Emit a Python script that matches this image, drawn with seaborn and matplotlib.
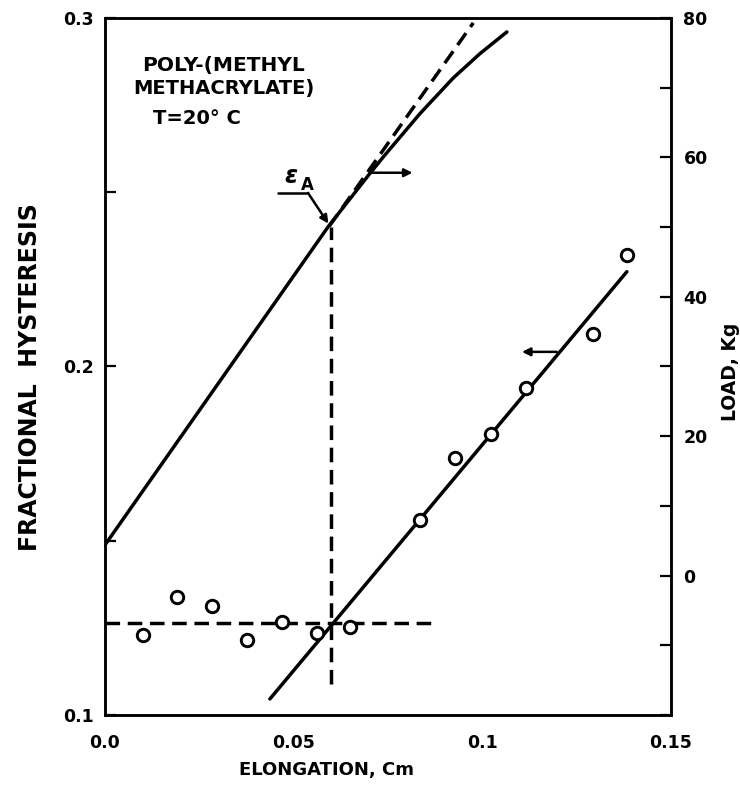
import matplotlib
matplotlib.use("Agg")
import matplotlib.pyplot as plt
import seaborn as sns
import numpy as np
import pandas as pd

# ---------------- data ----------------
elong_hyst = [0.0100, 0.0192, 0.0284, 0.0377, 0.0468, 0.0561, 0.0649,
              0.0835, 0.0928, 0.1022, 0.1116, 0.1292, 0.1383]
frac_hyst = [0.1230, 0.1339, 0.1313, 0.1215, 0.1266, 0.1236, 0.1253,
             0.1560, 0.1737, 0.1806, 0.1937, 0.2093, 0.2320]

fit_x = [0.0437, 0.1383]
fit_y = [0.1046, 0.2272]

plateau_x = [0.0, 0.0879]
plateau_y = [0.1265, 0.1265]

eps_x = [0.0600, 0.0600]
eps_y = [0.1088, 0.2401]

load_x = [0.0, 0.0592, 0.0702, 0.0738, 0.0835, 0.0923, 0.0994, 0.1065]
load_y = [4.4, 50.1, 57.7, 60.1, 66.3, 71.4, 74.9, 78.0]

tangent_x = [0.0594, 0.0976]
tangent_y = [50.1, 79.3]

x_ticks = [0.0, 0.025, 0.05, 0.075, 0.1, 0.125, 0.15]
x_ticklabels = ["0.0", "", "0.05", "", "0.1", "", "0.15"]
left_ticks = [0.1, 0.15, 0.2, 0.25, 0.3]
left_ticklabels = ["0.1", "", "0.2", "", "0.3"]
right_ticks = [-20, -10, 0, 10, 20, 30, 40, 50, 60, 70, 80]
right_ticklabels = ["", "", "0", "", "20", "", "40", "", "60", "", "80"]

# ---------------- styling ----------------
sns.set_theme(style="white")
plt.rcParams["font.family"] = ["DejaVu Sans"]
plt.rcParams["font.weight"] = "bold"
plt.rcParams["text.color"] = "black"
plt.rcParams["axes.labelcolor"] = "black"

fig = plt.figure(figsize=(7.4, 7.86), dpi=100)
ax = fig.add_axes([105 / 740, 71 / 786, 566 / 740, 697 / 786])
ax2 = ax.twinx()

LW = 2.5
DASH = (0, (4.2, 2.2))

# hysteresis data
sns.scatterplot(x=elong_hyst, y=frac_hyst, ax=ax, marker="o", s=80,
                facecolor="white", edgecolor="black", linewidth=2.1, zorder=5)
sns.lineplot(x=fit_x, y=fit_y, ax=ax, color="black", lw=LW, estimator=None, sort=False)
sns.lineplot(x=plateau_x, y=plateau_y, ax=ax, color="black", lw=LW, linestyle=DASH,
             estimator=None, sort=False)
sns.lineplot(x=eps_x, y=eps_y, ax=ax, color="black", lw=LW, linestyle=DASH,
             estimator=None, sort=False)

# load curve
sns.lineplot(x=load_x, y=load_y, ax=ax2, color="black", lw=LW, estimator=None, sort=False)
sns.lineplot(x=tangent_x, y=tangent_y, ax=ax2, color="black", lw=LW, linestyle=DASH,
             estimator=None, sort=False)

# axes limits/ticks
ax.set_xlim(0, 0.15)
ax.set_ylim(0.1, 0.3)
ax2.set_ylim(-20, 80)
ax.set_xticks(x_ticks)
ax.set_xticklabels(x_ticklabels)
ax.set_yticks(left_ticks)
ax.set_yticklabels(left_ticklabels)
ax2.set_yticks(right_ticks)
ax2.set_yticklabels(right_ticklabels)

for a in (ax, ax2):
    for sp in a.spines.values():
        sp.set_linewidth(1.8)
        sp.set_color("black")
    a.grid(False)

ax.tick_params(axis="x", direction="in", length=8, width=1.6, pad=14,
               labelsize=12.5, colors="black", top=False)
ax.tick_params(axis="y", direction="in", length=8, width=1.6, pad=8,
               labelsize=12.5, colors="black", right=False)
ax2.tick_params(axis="y", direction="in", length=8, width=1.6, pad=9,
                labelsize=12.5, colors="black")
for lab in ax.get_xticklabels() + ax.get_yticklabels() + ax2.get_yticklabels():
    lab.set_fontweight("bold")

ax.set_xlabel("ELONGATION, Cm", fontsize=13, fontweight="bold", color="black")
ax.xaxis.set_label_coords(0.392, -0.066)
ax.set_ylabel("FRACTIONAL  HYSTERESIS", fontsize=17, fontweight="bold", color="black")
ax.yaxis.set_label_coords(-0.112, 0.485)
ax2.set_ylabel("LOAD, Kg", fontsize=13.5, fontweight="bold", color="black")
ax2.yaxis.set_label_coords(1.088, 0.493)

# text
ax.text(0.0315, 0.2865, "POLY-(METHYL", ha="center", va="center",
        fontsize=14.5, fontweight="bold", color="black")
ax.text(0.0315, 0.2799, "METHACRYLATE)", ha="center", va="center",
        fontsize=14, fontweight="bold", color="black")
ax.text(0.0127, 0.2713, "T=20° C", ha="left", va="center",
        fontsize=14, fontweight="bold", color="black")

# epsilon_A annotation
ax.text(0.0475, 0.2548, r"$\epsilon$", ha="left", va="center", fontsize=17, color="black")
ax.text(0.0518, 0.2520, "A", ha="left", va="center", fontsize=12, fontweight="bold",
        color="black")
ax.plot([0.0458, 0.0538], [0.2498, 0.2498], color="black", lw=1.8)
ax.annotate("", xy=(0.0592, 0.2410), xytext=(0.0538, 0.2498),
            arrowprops=dict(arrowstyle="-|>", color="black", lw=1.8,
                            mutation_scale=12, shrinkA=0, shrinkB=0))

# direction arrows
ax2.annotate("", xy=(0.0815, 57.8), xytext=(0.0702, 57.8),
             arrowprops=dict(arrowstyle="-|>", color="black", lw=1.8,
                             mutation_scale=12, shrinkA=0, shrinkB=0))
ax.annotate("", xy=(0.1105, 0.2042), xytext=(0.1197, 0.2042),
            arrowprops=dict(arrowstyle="-|>", color="black", lw=1.8,
                            mutation_scale=12, shrinkA=0, shrinkB=0))

fig.savefig("out.png", dpi=100, facecolor="white")
